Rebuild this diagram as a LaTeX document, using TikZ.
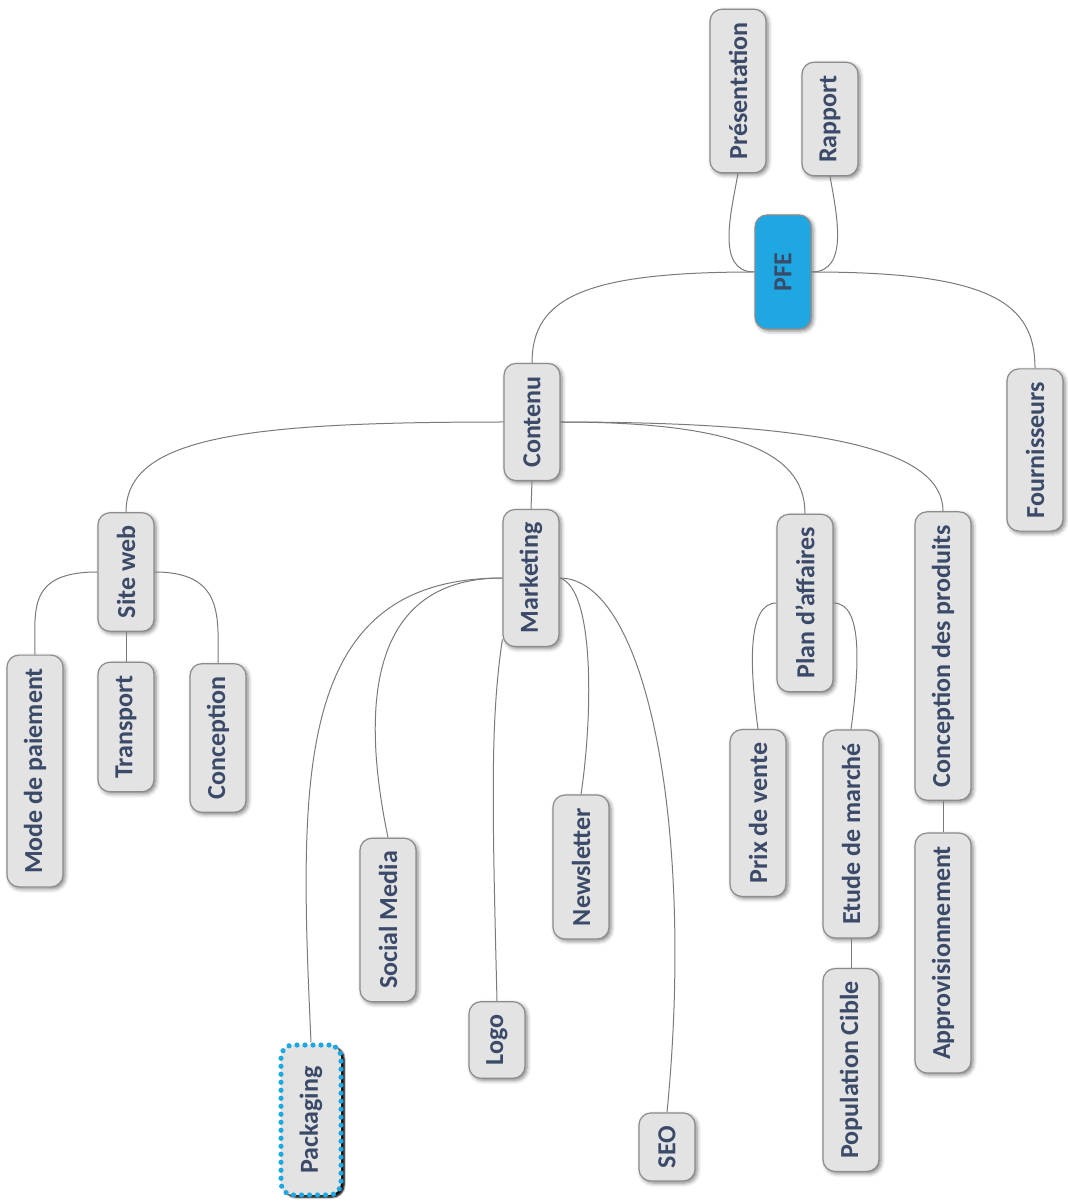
\documentclass[tikz,border=0pt]{standalone}
\usepackage{fontspec}
\setmainfont{Carlito}
\usepackage{graphicx}
\usetikzlibrary{shadows.blur}

\definecolor{boxfill}{HTML}{E3E3E3}
\definecolor{boxline}{HTML}{8C8C8C}
\definecolor{pfeblue}{HTML}{1EA7E1}
\definecolor{labeltext}{HTML}{3A4A68}
\definecolor{linkgray}{HTML}{7A7A7A}

\newcommand{\vlabel}[1]{\rotatebox{90}{#1}}

\tikzset{
  topic/.style={rectangle, rounded corners=6pt, draw=boxline, fill=boxfill,
    line width=0.6pt, minimum width=28pt, inner xsep=2pt, inner ysep=6.5pt,
    text=labeltext, font=\fontsize{13}{13}\selectfont\bfseries,
    blur shadow={shadow xshift=1pt, shadow yshift=-1pt,
      shadow blur radius=2pt, shadow opacity=50}},
  root/.style={topic, fill=pfeblue, minimum height=57pt},
  focus/.style={topic, draw=pfeblue, line width=2.6pt, line cap=round,
    dash pattern=on 0pt off 4pt, minimum height=75pt, minimum width=30pt,
    blur shadow={shadow xshift=1.5pt, shadow yshift=-1pt,
      shadow blur radius=1pt, shadow opacity=85}},
  link/.style={draw=linkgray, line width=0.5pt}
}

\begin{document}
\begin{tikzpicture}[x=0.5pt, y=-0.5pt]
  \useasboundingbox (0,0) rectangle (1068,1202);

  % root and first level
  \node[root]  (pfe)   at ( 783, 272) {\vlabel{PFE}};
  \node[topic] (pres)  at ( 738,  91) {\vlabel{Présentation}};
  \node[topic] (rapp)  at ( 830, 119) {\vlabel{Rapport}};
  \node[topic] (cont)  at ( 532, 422) {\vlabel{Contenu}};
  \node[topic] (four)  at (1035, 450) {\vlabel{Fournisseurs}};

  % second level
  \node[topic] (site)  at ( 126, 572) {\vlabel{Site web}};
  \node[topic] (mark)  at ( 531, 578) {\vlabel{Marketing}};
  \node[topic] (plan)  at ( 805, 603) {\vlabel{Plan d'affaires}};
  \node[topic] (cdp)   at ( 943, 656) {\vlabel{Conception des produits}};

  % site web
  \node[topic] (mode)  at (  35, 771) {\vlabel{Mode de paiement}};
  \node[topic] (trans) at ( 126, 727) {\vlabel{Transport}};
  \node[topic] (conc)  at ( 218, 738) {\vlabel{Conception}};

  % marketing
  \node[topic] (soc)   at ( 388, 920) {\vlabel{Social Media}};
  \node[topic] (news)  at ( 581, 867) {\vlabel{Newsletter}};
  \node[topic] (logo)  at ( 497,1040) {\vlabel{Logo}};
  \node[focus] (pack)  at ( 311,1120) {\vlabel{Packaging}};
  \node[topic] (seo)   at ( 667,1147) {\vlabel{SEO}};

  % plan d'affaires and produits
  \node[topic] (prix)  at ( 758, 813) {\vlabel{Prix de vente}};
  \node[topic] (etud)  at ( 851, 834) {\vlabel{Etude de marché}};
  \node[topic] (pop)   at ( 851,1070) {\vlabel{Population Cible}};
  \node[topic] (appro) at ( 943, 953) {\vlabel{Approvisionnement}};

  \draw[link] (pres.south) to[out=-100, in=180] (pfe.west);
  \draw[link] (rapp.south) to[out=-80, in=0] (pfe.east);
  \draw[link] (pfe.west) .. controls +(-170,0) and +(0,-65) .. (cont.north);
  \draw[link] (pfe.east) .. controls +(180,0) and +(0,-65) .. (four.north);

  \draw[link] (cont.west) .. controls +(-260,0) and +(0,-75) .. (site.north);
  \draw[link] (cont.south) to (mark.north);
  \draw[link] (cont.east) .. controls +(190,0) and +(0,-55) .. (plan.north);
  \draw[link] (cont.east) .. controls +(270,0) and +(0,-60) .. (cdp.north);

  \draw[link] (site.west) .. controls +(-70,0) and +(0,-45) .. (mode.north);
  \draw[link] (site.south) to (trans.north);
  \draw[link] (site.east) .. controls +(70,0) and +(0,-45) .. (conc.north);

  \draw[link] (mark.west) .. controls +(-210,0) and +(-12,-265) .. (pack.north);
  \draw[link] (mark.west) .. controls +(-140,0) and +(-25,-120) .. (soc.north);
  \draw[link] (mark.245) .. controls +(-12,80) and +(-5,-200) .. (logo.north);
  \draw[link] (mark.east) .. controls +(35,10) and +(12,-80) .. (news.north);
  \draw[link] (mark.east) .. controls +(87,0) and +(28,-285) .. (seo.north);

  \draw[link] (plan.west) .. controls +(-30,0) and +(-8,-60) .. (prix.north);
  \draw[link] (plan.east) .. controls +(30,0) and +(8,-60) .. (etud.north);
  \draw[link] (etud.south) to (pop.north);
  \draw[link] (cdp.south) to (appro.north);
\end{tikzpicture}
\end{document}
